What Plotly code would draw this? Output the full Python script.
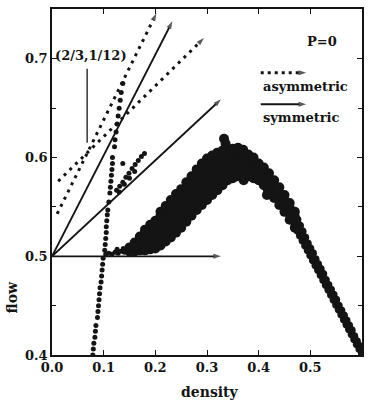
import plotly.graph_objects as go

# ---------------- data ----------------
# vertical column of points near density 0.08-0.14
col_x = [0.079, 0.080, 0.081, 0.083, 0.084, 0.085,
         0.088, 0.089, 0.090, 0.091, 0.092, 0.093, 0.095, 0.096, 0.097, 0.098, 0.099,
         0.102, 0.103, 0.104, 0.105, 0.105, 0.106, 0.107, 0.108,
         0.110, 0.112, 0.113, 0.114, 0.115, 0.116, 0.117, 0.117,
         0.121, 0.122, 0.124, 0.126, 0.128, 0.130, 0.132, 0.134, 0.137]
col_y = [0.400, 0.406, 0.412, 0.418, 0.424, 0.430,
         0.438, 0.444, 0.450, 0.456, 0.462, 0.468, 0.474, 0.480, 0.486, 0.492, 0.498,
         0.506, 0.512, 0.518, 0.524, 0.530, 0.536, 0.542, 0.547,
         0.555, 0.564, 0.570, 0.576, 0.582, 0.588, 0.594, 0.600,
         0.611, 0.618, 0.626, 0.634, 0.642, 0.650, 0.658, 0.666, 0.675]

# short streak above the symmetric arrow
streak_x = [0.125, 0.131, 0.137, 0.143, 0.149, 0.155, 0.161, 0.167, 0.173, 0.179,
            0.130, 0.140, 0.150, 0.160, 0.137]
streak_y = [0.567, 0.571, 0.575, 0.580, 0.584, 0.589, 0.593, 0.597, 0.601, 0.604,
            0.565, 0.573, 0.579, 0.586, 0.594]

# points sitting on the flow=0.5 line at the foot of the hump
base_x = [0.104, 0.110, 0.116, 0.122, 0.128, 0.134, 0.140, 0.146, 0.126, 0.138]
base_y = [0.502, 0.503, 0.502, 0.504, 0.503, 0.505, 0.504, 0.506, 0.507, 0.508]

# main hump, rising part and peak (columns of points)
hump_x = [0.15, 0.16, 0.17, 0.18, 0.19, 0.20, 0.21,
          0.22, 0.23, 0.24, 0.25, 0.26, 0.27, 0.28, 0.29, 0.30, 0.31, 0.32, 0.33,
          0.34, 0.35, 0.36, 0.37, 0.38, 0.39, 0.40, 0.41,
          0.42, 0.43, 0.44, 0.45, 0.46, 0.47]
hump_y = [
    [0.505, 0.509], [0.505, 0.510, 0.514], [0.506, 0.511, 0.517, 0.520],
    [0.506, 0.511, 0.518, 0.524, 0.527], [0.507, 0.513, 0.520, 0.527, 0.532],
    [0.508, 0.515, 0.523, 0.531, 0.536], [0.511, 0.518, 0.526, 0.534, 0.541, 0.545],
    [0.515, 0.522, 0.530, 0.538, 0.546, 0.551], [0.519, 0.527, 0.535, 0.543, 0.551, 0.557],
    [0.524, 0.532, 0.540, 0.548, 0.556, 0.563], [0.529, 0.537, 0.545, 0.553, 0.561, 0.568],
    [0.535, 0.543, 0.551, 0.559, 0.567, 0.575], [0.541, 0.549, 0.557, 0.565, 0.573, 0.581],
    [0.547, 0.555, 0.563, 0.571, 0.580, 0.588], [0.552, 0.560, 0.568, 0.576, 0.585, 0.594],
    [0.557, 0.565, 0.573, 0.581, 0.590, 0.599], [0.562, 0.570, 0.578, 0.586, 0.594, 0.602],
    [0.567, 0.575, 0.583, 0.591, 0.599, 0.605], [0.572, 0.579, 0.587, 0.595, 0.602, 0.607],
    [0.577, 0.584, 0.591, 0.598, 0.604, 0.608], [0.579, 0.586, 0.593, 0.600, 0.606, 0.609],
    [0.581, 0.588, 0.595, 0.602, 0.607, 0.610], [0.581, 0.588, 0.595, 0.601, 0.606, 0.608],
    [0.581, 0.588, 0.595, 0.600, 0.603], [0.579, 0.586, 0.592, 0.597, 0.600],
    [0.577, 0.583, 0.589, 0.594], [0.572, 0.579, 0.585, 0.590],
    [0.566, 0.572, 0.578, 0.584], [0.559, 0.565, 0.571, 0.577],
    [0.552, 0.558, 0.564, 0.570], [0.545, 0.551, 0.557, 0.562],
    [0.537, 0.543, 0.549, 0.554], [0.529, 0.535, 0.540, 0.545]]
outlier_x = [0.333, 0.336, 0.371, 0.416, 0.418]
outlier_y = [0.619, 0.614, 0.577, 0.562, 0.567]

# falling branch, thinner band
fall_x = [0.475, 0.480, 0.485, 0.490, 0.495, 0.500, 0.505, 0.510, 0.515, 0.520,
          0.525, 0.530, 0.535, 0.540, 0.545, 0.550, 0.555, 0.560, 0.565, 0.570,
          0.575, 0.580, 0.585, 0.590, 0.595, 0.600]
fall_lo = [0.526, 0.521, 0.516, 0.511, 0.506, 0.501, 0.496, 0.491, 0.486, 0.481,
           0.476, 0.471, 0.466, 0.461, 0.456, 0.451, 0.446, 0.441, 0.436, 0.431,
           0.426, 0.421, 0.416, 0.411, 0.406, 0.401]
fall_hi = [0.537, 0.531, 0.525, 0.519, 0.513, 0.508, 0.503, 0.497, 0.492, 0.487,
           0.482, 0.476, 0.471, 0.466, 0.461, 0.456, 0.450, 0.445, 0.440, 0.435,
           0.430, 0.425, 0.419, 0.414, 0.409, 0.403]

# arrows: (start x, start y, end x, end y)
sym_x0 = [0.0, 0.0, 0.0]
sym_y0 = [0.5, 0.5, 0.5]
sym_x1 = [0.327, 0.327, 0.233]
sym_y1 = [0.500, 0.659, 0.738]
asym_x0 = [0.010, 0.012]
asym_y0 = [0.543, 0.576]
asym_x1 = [0.202, 0.294]
asym_y1 = [0.746, 0.721]

x_ticks = [0.0, 0.1, 0.2, 0.3, 0.4, 0.5, 0.6]
y_ticks = [0.4, 0.5, 0.6, 0.7]

FONT = "DejaVu Serif"
INK = "#141414"

# ---------------- figure ----------------
fig = go.Figure()

hx, hy = [], []
for x, ys in zip(hump_x, hump_y):
    for y in ys:
        hx.append(x)
        hy.append(y)

fig.add_trace(go.Scatter(x=hx + outlier_x, y=hy + outlier_y, mode="markers",
                         marker=dict(size=10, color=INK, line=dict(width=0)),
                         hoverinfo="skip"))
fig.add_trace(go.Scatter(x=fall_x + fall_x, y=fall_lo + fall_hi, mode="markers",
                         marker=dict(size=8, color=INK, line=dict(width=0)),
                         hoverinfo="skip"))
fig.add_trace(go.Scatter(x=col_x + streak_x + base_x, y=col_y + streak_y + base_y,
                         mode="markers",
                         marker=dict(size=5, color=INK, line=dict(width=0)),
                         hoverinfo="skip"))

def arrow(x0, y0, x1, y1, dash):
    fig.add_trace(go.Scatter(
        x=[x0, x1], y=[y0, y1], mode="lines+markers",
        line=dict(color=INK, width=1.8 if dash == "solid" else 3, dash=dash),
        marker=dict(symbol="arrow", size=[0, 8], angleref="previous", color=INK,
                    line=dict(width=0)),
        hoverinfo="skip"))

for a, b, c, d in zip(sym_x0, sym_y0, sym_x1, sym_y1):
    arrow(a, b, c, d, "solid")
for a, b, c, d in zip(asym_x0, asym_y0, asym_x1, asym_y1):
    arrow(a, b, c, d, "3px,5px")

# legend arrows
arrow(0.404, 0.686, 0.492, 0.686, "3px,4px")
arrow(0.404, 0.654, 0.492, 0.654, "solid")

# pointer line for (2/3,1/12)
fig.add_trace(go.Scatter(x=[0.068, 0.068], y=[0.690, 0.615], mode="lines",
                         line=dict(color=INK, width=1.3), hoverinfo="skip"))

tf = dict(family=FONT, size=13, color=INK, weight="bold")
ann = [
    dict(x=0.075, y=0.703, text="(2/3,1/12)", xanchor="center", yanchor="middle"),
    dict(x=0.523, y=0.718, text="P=0", xanchor="center", yanchor="middle"),
    dict(x=0.405, y=0.672, text="asymmetric", xanchor="left", yanchor="middle"),
    dict(x=0.405, y=0.641, text="symmetric", xanchor="left", yanchor="middle"),
]
for a in ann:
    fig.add_annotation(xref="x", yref="y", showarrow=False, font=tf, **a)

fig.add_annotation(xref="paper", yref="paper", x=0.51, y=-0.107, text="density",
                   showarrow=False, font=dict(family=FONT, size=14, color=INK, weight="bold"),
                   xanchor="center", yanchor="middle")
fig.add_annotation(xref="paper", yref="paper", x=-0.128, y=0.167, text="flow",
                   showarrow=False, textangle=-90,
                   font=dict(family=FONT, size=14, color=INK, weight="bold"),
                   xanchor="center", yanchor="middle")

axis_common = dict(showgrid=False, zeroline=False, showline=True, linecolor=INK,
                   linewidth=1.5, mirror="ticks", ticks="inside", ticklen=5,
                   tickwidth=1.2, tickcolor=INK,
                   tickfont=dict(family=FONT, size=13, color=INK, weight="bold"))

fig.update_xaxes(range=[0.0, 0.6], tickvals=x_ticks,
                 ticktext=[f"{v:.1f}" for v in x_ticks], **axis_common)
fig.update_yaxes(range=[0.4, 0.7505], tickvals=y_ticks,
                 ticktext=[f"{v:.1f}" for v in y_ticks],
                 minor=dict(tickvals=[0.45, 0.55, 0.65], ticks="inside", ticklen=4,
                            tickcolor=INK, tickwidth=1.2),
                 **axis_common)

fig.update_layout(width=371, height=402, showlegend=False,
                  margin=dict(l=52, r=7, t=8, b=47),
                  paper_bgcolor="white", plot_bgcolor="white")

fig.write_html("out.html")
